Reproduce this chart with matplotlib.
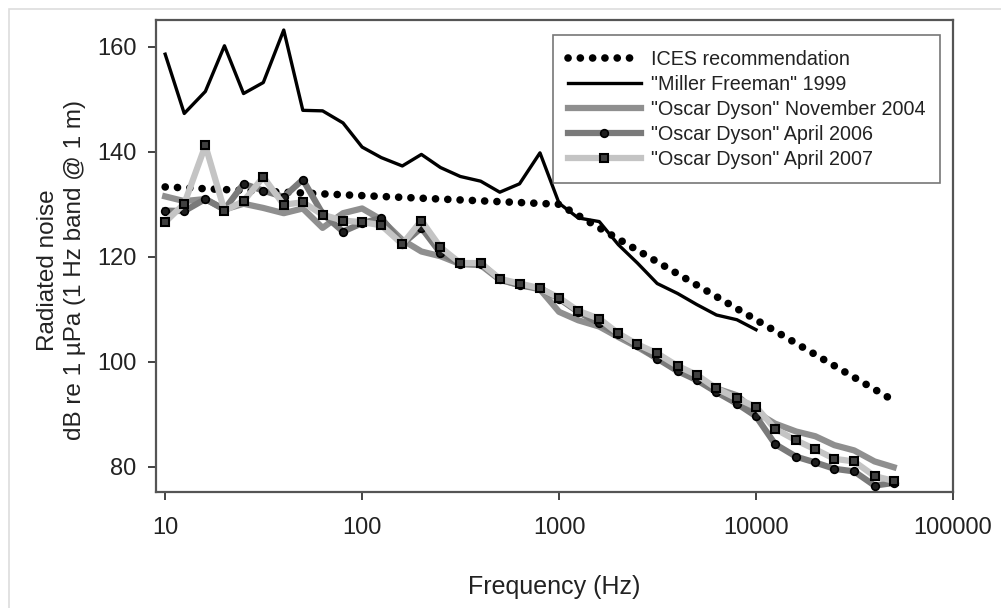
import matplotlib
matplotlib.use("Agg")
import matplotlib.pyplot as plt
from matplotlib.patches import Rectangle

plt.rcParams["font.family"] = ["Liberation Sans", "DejaVu Sans"]

# =============================================
# DATA
# =============================================
ices_freq = [10, 1000, 50000]
ices_db = [133.3, 130.0, 92.6]

mf_freq = [10, 12.5, 16, 20, 25, 31.5, 40, 50, 63, 80, 100, 125, 160, 200, 250,
           315, 400, 500, 630, 800, 1000, 1250, 1600, 2000, 2500, 3150, 4000,
           5000, 6300, 8000, 10000]
mf_db = [158.6, 147.3, 151.5, 160.2, 151.1, 153.2, 163.2, 147.9, 147.8, 145.5,
         140.9, 138.9, 137.3, 139.5, 137.0, 135.3, 134.4, 132.3, 133.9, 139.8,
         130.2, 127.4, 126.7, 122.3, 118.8, 114.9, 113.0, 110.9, 108.9, 108.0,
         106.1]

od_freq = [10, 12.5, 16, 20, 25, 31.5, 40, 50, 63, 80, 100, 125, 160, 200, 250,
           315, 400, 500, 630, 800, 1000, 1250, 1600, 2000, 2500, 3150, 4000,
           5000, 6300, 8000, 10000, 12500, 16000, 20000, 25000, 31500, 40000,
           50000]
od_nov2004 = [131.5, 130.6, 131.0, 129.0, 130.1, 129.3, 128.3, 129.2, 125.5,
              128.3, 129.2, 127.1, 123.2, 121.0, 120.1, 118.6, 118.4, 115.6,
              114.6, 113.8, 109.5, 107.9, 106.7, 104.7, 102.8, 100.6, 98.7,
              96.8, 94.9, 93.6, 90.4, 88.2, 86.7, 85.8, 84.1, 83.1, 81.0, 79.9]
od_apr2006 = [128.8, 128.7, 131.0, 129.0, 133.9, 132.6, 131.4, 134.7, 128.2,
              124.8, 126.4, 127.4, 122.4, 125.5, 120.7, 118.7, 118.7, 115.7,
              114.6, 114.0, 112.0, 109.5, 107.3, 105.2, 103.1, 100.6, 98.2,
              96.5, 94.2, 92.0, 89.6, 84.3, 81.9, 80.8, 79.6, 79.1, 76.4, 76.9]
od_apr2007 = [126.6, 130.1, 141.2, 128.8, 130.6, 135.2, 129.9, 130.4, 128.0,
              126.9, 126.6, 126.0, 122.4, 126.9, 121.8, 118.8, 118.8, 115.8,
              114.9, 114.0, 112.2, 109.7, 108.2, 105.4, 103.3, 101.6, 99.2,
              97.5, 94.9, 93.0, 91.4, 87.2, 85.0, 83.3, 81.5, 81.0, 78.2, 77.3]

x_ticks = [10, 100, 1000, 10000, 100000]
y_ticks = [80, 100, 120, 140, 160]

TXT = "#222222"

# =============================================
# FIGURE
# =============================================
fig = plt.figure(figsize=(10.01, 6.08), dpi=100)
ax = fig.add_axes([0.156, 0.191, 0.796, 0.776])

# light page border
fig.patches.append(Rectangle((9 / 1001, -0.01), 0.995, 0.995,
                             transform=fig.transFigure, fill=False,
                             edgecolor="#dddddd", linewidth=1.2))

ax.plot(ices_freq, ices_db, color="black", linewidth=5.5,
        linestyle=(0, (0.01, 1.6)), dash_capstyle="round",
        label="ICES recommendation", zorder=3)
ax.plot(mf_freq, mf_db, color="black", linewidth=2.4,
        label='"Miller Freeman" 1999', zorder=4)
ax.plot(od_freq, od_nov2004, color="#8f8f8f", linewidth=4.5,
        label='"Oscar Dyson" November 2004', zorder=5)
ax.plot(od_freq, od_apr2006, color="#7a7a7a", linewidth=4.5,
        marker="o", markersize=5.5, markerfacecolor="#1e1e1e",
        markeredgecolor="black", markeredgewidth=1.2,
        label='"Oscar Dyson" April 2006', zorder=6)
ax.plot(od_freq, od_apr2007, color="#c4c4c4", linewidth=4.5,
        marker="s", markersize=6, markerfacecolor="#404040",
        markeredgecolor="black", markeredgewidth=1.5,
        label='"Oscar Dyson" April 2007', zorder=7)

ax.set_xscale("log")
ax.set_xlim(9.0, 100000)
ax.set_ylim(75.2, 165.1)
ax.set_xticks(x_ticks)
ax.set_xticklabels([str(t) for t in x_ticks])
ax.xaxis.set_minor_locator(matplotlib.ticker.NullLocator())
ax.set_yticks(y_ticks)

ax.tick_params(axis="x", length=6, width=1.2, pad=12, labelsize=17,
               colors=TXT)
ax.tick_params(axis="y", length=6, width=1.2, pad=8, labelsize=17,
               colors=TXT)
for sp in ax.spines.values():
    sp.set_color("#555555")
    sp.set_linewidth(1.6)

ax.set_xlabel("Frequency (Hz)", fontsize=18, color=TXT, labelpad=26)
ax.set_ylabel("Radiated noise\ndB re 1 µPa (1 Hz band @ 1 m)", fontsize=17.5,
              color=TXT, linespacing=1.3)
ax.yaxis.set_label_coords(-0.088, 0.47)

leg = ax.legend(loc="upper right", bbox_to_anchor=(0.984, 0.968),
                fontsize=14.2, frameon=True, fancybox=False,
                handlelength=3.7, handletextpad=0.5, borderpad=0.75,
                labelspacing=0.3, borderaxespad=0)
leg.get_frame().set_edgecolor("#555555")
leg.get_frame().set_linewidth(1.2)
for t in leg.get_texts():
    t.set_color(TXT)

fig.savefig("out.png", dpi=100, facecolor="white")
plt.close(fig)
